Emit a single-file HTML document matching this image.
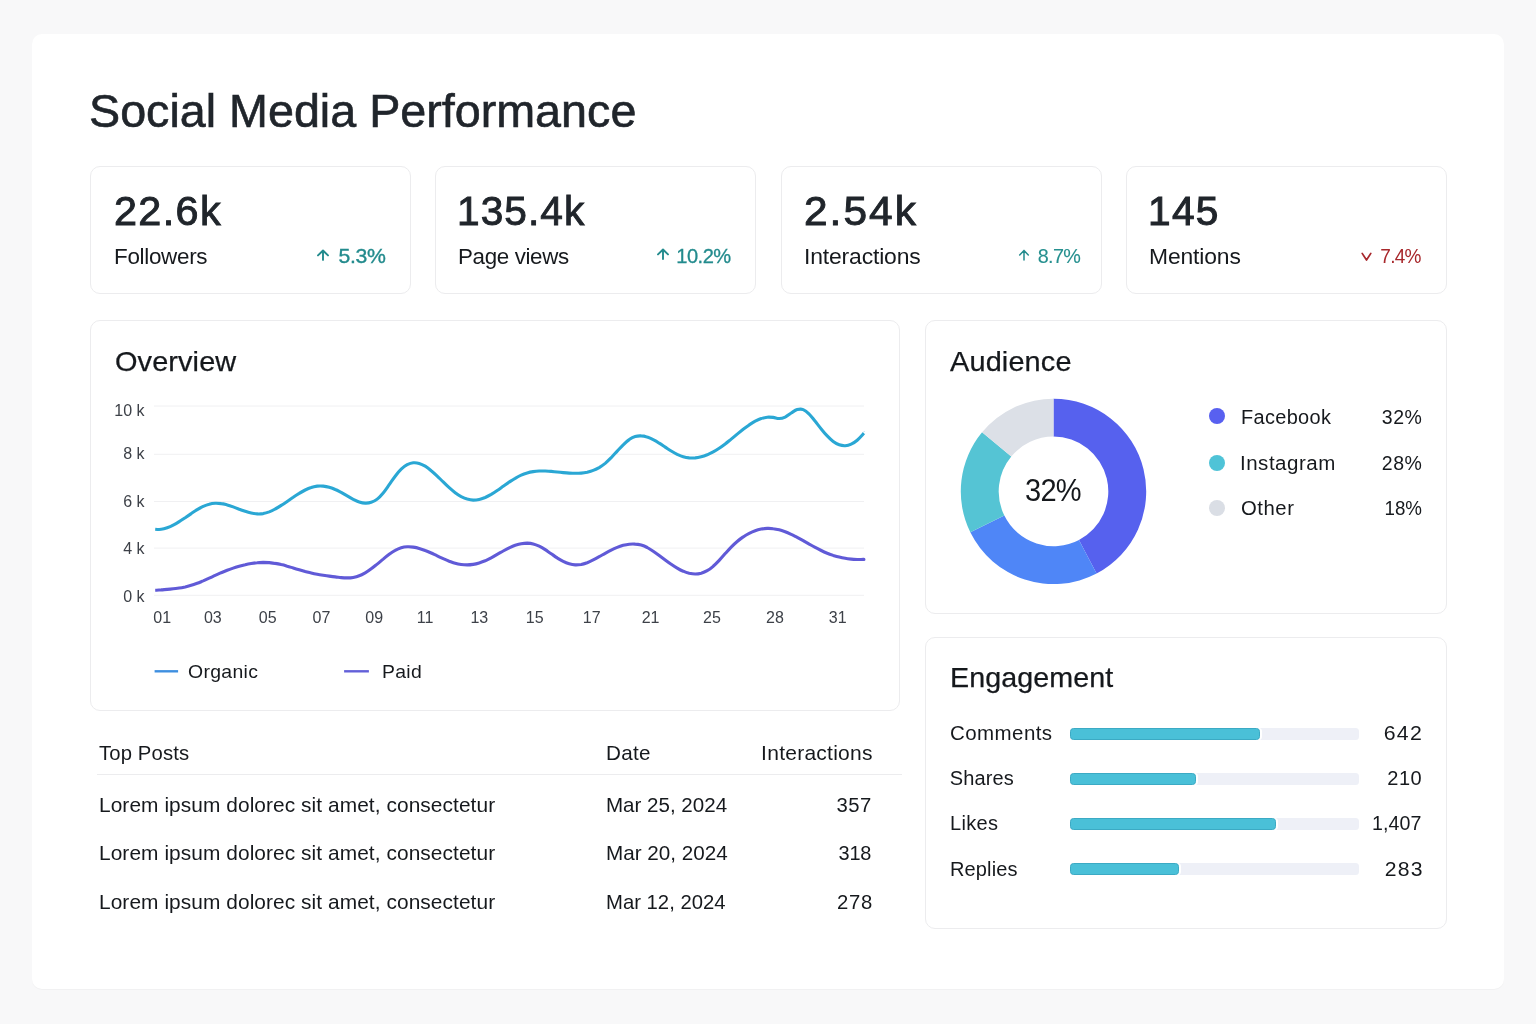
<!DOCTYPE html>
<html lang="en">
<head>
<meta charset="utf-8">
<title>Social Media Performance</title>
<style>
*{box-sizing:border-box;margin:0;padding:0}
html,body{width:1536px;height:1024px;overflow:hidden}
body{background:#f8f8f9;font-family:"Liberation Sans",Arial,sans-serif;color:#1f2328;position:relative}
.abs{position:absolute}
.t{position:absolute;white-space:nowrap;line-height:1;font-weight:400}
#main{left:32px;top:34px;width:1472px;height:955.4px;background:#fff;border-radius:10px;box-shadow:0 1px 1px rgba(0,0,0,.03)}
.panel{position:absolute;background:#fff;border:1px solid #ececee;border-radius:10px}
.track{position:absolute;left:1070px;width:288.5px;height:12.3px;border-radius:3.5px;background:#eef0f7}
.fill{position:absolute;left:0;top:0;height:12.3px;border-radius:3.5px;background:#4ac0d8;border:1px solid #3caac4;box-shadow:2px 0 0 #fff}
.dot{position:absolute;left:1209.2px;width:16.3px;height:16.3px;border-radius:50%}
</style>
</head>
<body>
<div id="main" class="abs"></div>

<!-- KPI cards -->
<div class="panel" style="left:90px;top:166px;width:321px;height:128px"></div>
<div class="panel" style="left:434.5px;top:166px;width:321.5px;height:128px"></div>
<div class="panel" style="left:780.5px;top:166px;width:321.5px;height:128px"></div>
<div class="panel" style="left:1126px;top:166px;width:321px;height:128px"></div>
<svg class="abs" style="left:315.8px;top:248.6px" width="14" height="13" viewBox="0 0 14 13"><path d="M7 10.9V1.6M2 6.4L7 1.5L12 6.4" fill="none" stroke="#238b8d" stroke-width="1.9" stroke-linecap="round" stroke-linejoin="round"/></svg>
<svg class="abs" style="left:656.1px;top:248.4px" width="14" height="13" viewBox="0 0 14 13"><path d="M7 11V1.6M2 6.4L7 1.5L12 6.4" fill="none" stroke="#238b8d" stroke-width="1.9" stroke-linecap="round" stroke-linejoin="round"/></svg>
<svg class="abs" style="left:1017.2px;top:249.2px" width="14" height="13" viewBox="0 0 14 13"><path d="M7 10.9V1.6M2.7 5.9L7 1.5L11.3 5.9" fill="none" stroke="#238b8d" stroke-width="1.5" stroke-linecap="round" stroke-linejoin="round"/></svg>
<svg class="abs" style="left:1360.9px;top:252px" width="11" height="10" viewBox="0 0 11 10"><path d="M1.2 1.4L5.5 8L9.8 1.4" fill="none" stroke="#a8282c" stroke-width="1.7" stroke-linecap="round" stroke-linejoin="round"/></svg>

<!-- Panels -->
<div class="panel" style="left:90px;top:320px;width:810px;height:390.5px"></div>
<div class="panel" style="left:925px;top:320px;width:522px;height:293.5px"></div>
<div class="panel" style="left:925px;top:637px;width:522px;height:292px"></div>

<!-- Charts -->
<svg class="abs" style="left:0;top:0" width="1536" height="1024" viewBox="0 0 1536 1024">
<g stroke="#f0f0f2" stroke-width="1">
<line x1="154" y1="406" x2="864" y2="406"/><line x1="154" y1="454.3" x2="864" y2="454.3"/><line x1="154" y1="501.5" x2="864" y2="501.5"/><line x1="154" y1="548.1" x2="864" y2="548.1"/><line x1="154" y1="595.3" x2="864" y2="595.3"/>
</g>
<path fill="none" stroke="#2aa7d4" stroke-width="3.1" stroke-linecap="butt" stroke-linejoin="round" d="M155.2 529.2C156.2 529.3 159.2 529.6 161.2 529.3C163.2 529.1 165.2 528.5 167.2 527.8C169.2 527.1 171.2 526.2 173.2 525.1C175.2 524.1 177.2 522.9 179.2 521.6C181.2 520.4 183.2 519.0 185.2 517.7C187.2 516.3 189.2 514.9 191.2 513.6C193.2 512.2 195.2 510.9 197.2 509.7C199.2 508.5 201.2 507.4 203.2 506.4C205.2 505.5 207.2 504.7 209.2 504.2C211.2 503.6 213.2 503.3 215.2 503.2C217.2 503.1 219.2 503.3 221.2 503.6C223.2 503.8 225.2 504.4 227.2 504.9C229.2 505.5 231.2 506.2 233.2 506.9C235.2 507.6 237.2 508.4 239.2 509.2C241.2 509.9 243.2 510.7 245.2 511.3C247.2 512.0 249.2 512.6 251.2 513.0C253.2 513.4 255.2 513.8 257.2 513.9C259.2 514.0 261.2 513.9 263.2 513.6C265.2 513.2 267.2 512.6 269.2 511.9C271.2 511.1 273.2 510.1 275.2 509.0C277.2 508.0 279.2 506.7 281.2 505.4C283.2 504.2 285.2 502.8 287.2 501.4C289.2 500.0 291.2 498.6 293.2 497.3C295.2 495.9 297.2 494.6 299.2 493.4C301.2 492.1 303.2 491.0 305.2 490.0C307.2 489.0 309.2 488.1 311.2 487.5C313.2 486.8 315.2 486.4 317.2 486.1C319.2 485.9 321.2 485.9 323.2 486.1C325.2 486.3 327.2 486.7 329.2 487.3C331.2 487.9 333.2 488.6 335.2 489.5C337.2 490.3 339.2 491.4 341.2 492.4C343.2 493.5 345.2 494.8 347.2 495.9C349.2 497.1 351.2 498.3 353.2 499.3C355.2 500.3 357.2 501.3 359.2 501.9C361.2 502.5 363.2 503.0 365.2 503.1C367.2 503.2 369.2 503.0 371.2 502.3C373.2 501.7 375.2 500.7 377.2 499.1C379.2 497.5 381.2 495.3 383.2 492.9C385.2 490.6 387.2 487.5 389.2 484.7C391.2 481.9 393.2 478.8 395.2 476.2C397.2 473.6 399.2 471.1 401.2 469.2C403.2 467.3 405.2 465.8 407.2 464.7C409.2 463.7 411.2 463.0 413.2 462.8C415.2 462.6 417.2 462.8 419.2 463.4C421.2 464.0 423.2 465.0 425.2 466.2C427.2 467.4 429.2 469.0 431.2 470.7C433.2 472.3 435.2 474.2 437.2 476.1C439.2 478.0 441.2 480.0 443.2 481.9C445.2 483.9 447.2 485.9 449.2 487.7C451.2 489.5 453.2 491.2 455.2 492.7C457.2 494.2 459.2 495.5 461.2 496.6C463.2 497.6 465.2 498.5 467.2 499.1C469.2 499.6 471.2 500.0 473.2 500.1C475.2 500.1 477.2 499.9 479.2 499.5C481.2 499.1 483.2 498.3 485.2 497.5C487.2 496.6 489.2 495.5 491.2 494.4C493.2 493.2 495.2 491.9 497.2 490.5C499.2 489.2 501.2 487.7 503.2 486.3C505.2 484.9 507.2 483.5 509.2 482.1C511.2 480.8 513.2 479.4 515.2 478.3C517.2 477.1 519.2 476.0 521.2 475.1C523.2 474.2 525.2 473.5 527.2 472.9C529.2 472.3 531.2 471.9 533.2 471.6C535.2 471.3 537.2 471.1 539.2 471.0C541.2 470.9 543.2 471.0 545.2 471.0C547.2 471.1 549.2 471.2 551.2 471.4C553.2 471.6 555.2 471.8 557.2 472.0C559.2 472.2 561.2 472.4 563.2 472.6C565.2 472.8 567.2 473.0 569.2 473.1C571.2 473.2 573.2 473.3 575.2 473.3C577.2 473.3 579.2 473.3 581.2 473.1C583.2 472.9 585.2 472.6 587.2 472.2C589.2 471.7 591.2 471.2 593.2 470.4C595.2 469.7 597.2 468.7 599.2 467.6C601.2 466.4 603.2 465.0 605.2 463.4C607.2 461.7 609.2 459.7 611.2 457.7C613.2 455.6 615.2 453.3 617.2 451.1C619.2 449.0 621.2 446.7 623.2 444.8C625.2 442.8 627.2 440.9 629.2 439.6C631.2 438.2 633.2 437.1 635.2 436.5C637.2 435.9 639.2 435.8 641.2 435.9C643.2 435.9 645.2 436.4 647.2 437.1C649.2 437.7 651.2 438.6 653.2 439.7C655.2 440.7 657.2 441.9 659.2 443.2C661.2 444.4 663.2 445.8 665.2 447.1C667.2 448.4 669.2 449.8 671.2 451.0C673.2 452.2 675.2 453.4 677.2 454.4C679.2 455.3 681.2 456.2 683.2 456.7C685.2 457.3 687.2 457.7 689.2 457.9C691.2 458.0 693.2 458.0 695.2 457.9C697.2 457.7 699.2 457.3 701.2 456.8C703.2 456.3 705.2 455.6 707.2 454.8C709.2 453.9 711.2 453.0 713.2 451.9C715.2 450.8 717.2 449.5 719.2 448.2C721.2 446.9 723.2 445.4 725.2 443.9C727.2 442.4 729.2 440.7 731.2 439.1C733.2 437.5 735.2 435.8 737.2 434.1C739.2 432.5 741.2 430.9 743.2 429.3C745.2 427.8 747.2 426.3 749.2 424.9C751.2 423.6 753.2 422.3 755.2 421.2C757.2 420.2 759.2 419.2 761.2 418.6C763.2 417.9 765.2 417.4 767.2 417.2C769.2 417.0 771.2 417.2 773.2 417.4C775.2 417.6 777.2 418.6 779.2 418.5C781.2 418.5 783.2 418.0 785.2 417.1C787.2 416.2 789.2 414.2 791.2 413.0C793.2 411.8 795.2 410.2 797.2 409.6C799.2 409.1 801.2 408.9 803.2 409.6C805.2 410.4 807.2 412.1 809.2 414.1C811.2 416.0 813.2 418.9 815.2 421.3C817.2 423.8 819.2 426.5 821.2 428.9C823.2 431.4 825.2 433.8 827.2 435.9C829.2 438.0 831.2 440.0 833.2 441.5C835.2 443.0 837.2 444.1 839.2 444.8C841.2 445.5 843.2 445.8 845.2 445.7C847.2 445.5 849.2 445.0 851.2 444.1C853.2 443.2 855.2 441.9 857.2 440.2C859.2 438.5 862.1 435.2 863.2 434.0C864.3 432.8 863.8 433.2 863.9 433.1"/>
<path fill="none" stroke="#605ad7" stroke-width="3.1" stroke-linecap="butt" stroke-linejoin="round" d="M155.2 590.2C156.2 590.2 159.2 590.0 161.2 589.9C163.2 589.7 165.2 589.6 167.2 589.4C169.2 589.3 171.2 589.1 173.2 588.8C175.2 588.6 177.2 588.3 179.2 588.0C181.2 587.7 183.2 587.3 185.2 586.9C187.2 586.4 189.2 585.9 191.2 585.3C193.2 584.7 195.2 584.0 197.2 583.3C199.2 582.6 201.2 581.7 203.2 580.9C205.2 580.0 207.2 579.1 209.2 578.2C211.2 577.3 213.2 576.3 215.2 575.4C217.2 574.5 219.2 573.6 221.2 572.7C223.2 571.9 225.2 571.1 227.2 570.3C229.2 569.5 231.2 568.8 233.2 568.1C235.2 567.4 237.2 566.8 239.2 566.2C241.2 565.6 243.2 565.1 245.2 564.7C247.2 564.2 249.2 563.8 251.2 563.5C253.2 563.2 255.2 562.9 257.2 562.8C259.2 562.6 261.2 562.5 263.2 562.4C265.2 562.4 267.2 562.5 269.2 562.6C271.2 562.8 273.2 563.0 275.2 563.4C277.2 563.7 279.2 564.1 281.2 564.6C283.2 565.0 285.2 565.6 287.2 566.2C289.2 566.7 291.2 567.4 293.2 568.0C295.2 568.6 297.2 569.2 299.2 569.8C301.2 570.4 303.2 571.0 305.2 571.6C307.2 572.1 309.2 572.7 311.2 573.1C313.2 573.6 315.2 574.0 317.2 574.3C319.2 574.7 321.2 575.0 323.2 575.3C325.2 575.6 327.2 575.9 329.2 576.1C331.2 576.4 333.2 576.7 335.2 576.9C337.2 577.1 339.2 577.4 341.2 577.6C343.2 577.8 345.2 577.9 347.2 577.9C349.2 577.9 351.2 577.8 353.2 577.4C355.2 577.0 357.2 576.5 359.2 575.7C361.2 575.0 363.2 573.9 365.2 572.8C367.2 571.7 369.2 570.3 371.2 568.8C373.2 567.4 375.2 565.7 377.2 564.1C379.2 562.5 381.2 560.7 383.2 559.1C385.2 557.4 387.2 555.8 389.2 554.3C391.2 552.8 393.2 551.4 395.2 550.4C397.2 549.3 399.2 548.4 401.2 547.8C403.2 547.2 405.2 546.9 407.2 546.8C409.2 546.7 411.2 546.8 413.2 547.1C415.2 547.4 417.2 547.8 419.2 548.4C421.2 549.0 423.2 549.7 425.2 550.5C427.2 551.2 429.2 552.1 431.2 553.0C433.2 553.9 435.2 554.9 437.2 555.8C439.2 556.8 441.2 557.7 443.2 558.6C445.2 559.5 447.2 560.4 449.2 561.2C451.2 561.9 453.2 562.7 455.2 563.2C457.2 563.8 459.2 564.2 461.2 564.5C463.2 564.8 465.2 564.9 467.2 564.9C469.2 564.9 471.2 564.7 473.2 564.4C475.2 564.1 477.2 563.6 479.2 563.0C481.2 562.4 483.2 561.6 485.2 560.8C487.2 559.9 489.2 558.9 491.2 557.8C493.2 556.8 495.2 555.6 497.2 554.4C499.2 553.3 501.2 552.1 503.2 551.0C505.2 549.9 507.2 548.8 509.2 547.8C511.2 546.9 513.2 546.0 515.2 545.3C517.2 544.7 519.2 544.1 521.2 543.7C523.2 543.3 525.2 543.1 527.2 543.1C529.2 543.2 531.2 543.4 533.2 543.9C535.2 544.4 537.2 545.2 539.2 546.1C541.2 547.1 543.2 548.3 545.2 549.6C547.2 550.9 549.2 552.4 551.2 553.7C553.2 555.1 555.2 556.6 557.2 557.9C559.2 559.1 561.2 560.4 563.2 561.4C565.2 562.4 567.2 563.2 569.2 563.8C571.2 564.4 573.2 564.8 575.2 564.9C577.2 565.0 579.2 564.8 581.2 564.5C583.2 564.1 585.2 563.4 587.2 562.7C589.2 561.9 591.2 560.9 593.2 559.9C595.2 558.9 597.2 557.8 599.2 556.7C601.2 555.6 603.2 554.4 605.2 553.3C607.2 552.2 609.2 551.1 611.2 550.1C613.2 549.1 615.2 548.2 617.2 547.4C619.2 546.6 621.2 545.9 623.2 545.3C625.2 544.8 627.2 544.4 629.2 544.2C631.2 544.0 633.2 543.9 635.2 544.1C637.2 544.2 639.2 544.6 641.2 545.1C643.2 545.7 645.2 546.5 647.2 547.5C649.2 548.6 651.2 549.9 653.2 551.2C655.2 552.5 657.2 554.0 659.2 555.5C661.2 557.0 663.2 558.5 665.2 560.0C667.2 561.5 669.2 563.0 671.2 564.3C673.2 565.7 675.2 567.0 677.2 568.1C679.2 569.3 681.2 570.4 683.2 571.2C685.2 572.1 687.2 572.8 689.2 573.3C691.2 573.7 693.2 574.0 695.2 574.0C697.2 574.0 699.2 573.7 701.2 573.2C703.2 572.6 705.2 571.8 707.2 570.6C709.2 569.5 711.2 568.1 713.2 566.3C715.2 564.6 717.2 562.5 719.2 560.4C721.2 558.3 723.2 555.9 725.2 553.6C727.2 551.4 729.2 549.1 731.2 547.1C733.2 545.1 735.2 543.2 737.2 541.5C739.2 539.8 741.2 538.2 743.2 536.9C745.2 535.5 747.2 534.3 749.2 533.3C751.2 532.3 753.2 531.4 755.2 530.7C757.2 530.0 759.2 529.5 761.2 529.1C763.2 528.7 765.2 528.5 767.2 528.4C769.2 528.3 771.2 528.4 773.2 528.7C775.2 528.9 777.2 529.3 779.2 529.8C781.2 530.3 783.2 531.0 785.2 531.7C787.2 532.5 789.2 533.4 791.2 534.3C793.2 535.2 795.2 536.3 797.2 537.3C799.2 538.4 801.2 539.5 803.2 540.6C805.2 541.8 807.2 542.9 809.2 544.1C811.2 545.2 813.2 546.3 815.2 547.4C817.2 548.5 819.2 549.5 821.2 550.5C823.2 551.5 825.2 552.4 827.2 553.2C829.2 554.0 831.2 554.7 833.2 555.4C835.2 556.0 837.2 556.6 839.2 557.1C841.2 557.6 843.2 558.0 845.2 558.3C847.2 558.7 849.2 558.9 851.2 559.1C853.2 559.3 855.2 559.4 857.2 559.5C859.2 559.5 862.1 559.4 863.2 559.4C864.3 559.4 863.8 559.4 863.9 559.4"/>
<line x1="154.6" y1="671.3" x2="178.1" y2="671.3" stroke="#3e8fe0" stroke-width="2.4"/>
<line x1="344.1" y1="671.3" x2="368.9" y2="671.3" stroke="#6360d9" stroke-width="2.4"/>
<path fill="#5661ee" d="M1053.50 398.70A92.7 92.7 0 0 1 1096.59 573.48L1078.97 539.92A54.8 54.8 0 0 0 1053.50 436.60Z"/>
<path fill="#4f86f7" d="M1096.59 573.48A92.7 92.7 0 0 1 970.32 532.33L1004.33 515.59A54.8 54.8 0 0 0 1078.97 539.92Z"/>
<path fill="#55c4d4" d="M970.32 532.33A92.7 92.7 0 0 1 982.07 432.31L1011.28 456.47A54.8 54.8 0 0 0 1004.33 515.59Z"/>
<path fill="#dce0e7" d="M982.07 432.31A92.7 92.7 0 0 1 1053.50 398.70L1053.50 436.60A54.8 54.8 0 0 0 1011.28 456.47Z"/>
</svg>
<div class="dot" style="top:408.2px;background:#5860f0"></div>
<div class="dot" style="top:454.8px;background:#4fc3d7"></div>
<div class="dot" style="top:499.8px;background:#dadee5"></div>
<div class="track" style="top:727.65px"><div class="fill" style="width:190px"></div></div>
<div class="track" style="top:772.75px"><div class="fill" style="width:125.9px"></div></div>
<div class="track" style="top:817.85px"><div class="fill" style="width:205.8px"></div></div>
<div class="track" style="top:862.65px"><div class="fill" style="width:108.5px"></div></div>

<div class="abs" style="left:96.5px;top:773.6px;width:805px;height:1px;background:#ececee"></div>

<!-- Text -->
<div id="txt" style="position:absolute;left:0;top:0;width:1536px;height:1024px;will-change:transform">
<div class="t" id="title" style="font-size:45.8px;top:88.96px;color:#20252b;letter-spacing:-0.02px;-webkit-text-stroke:0.6px #20252b;left:88.66px;transform:scaleX(1.020);transform-origin:0 50%;">Social Media Performance</div>
<div class="t" id="k1" style="font-size:40px;top:191.34px;color:#20252b;letter-spacing:1.30px;-webkit-text-stroke:0.9px #20252b;left:113.87px;transform:scaleX(1.034);transform-origin:0 50%;">22.6k</div>
<div class="t" id="k2" style="font-size:40px;top:191.34px;color:#20252b;letter-spacing:1.01px;-webkit-text-stroke:0.9px #20252b;left:457.45px;transform:scaleX(1.017);transform-origin:0 50%;">135.4k</div>
<div class="t" id="k3" style="font-size:40px;top:191.34px;color:#20252b;letter-spacing:1.92px;-webkit-text-stroke:0.9px #20252b;left:803.89px;transform:scaleX(1.060);transform-origin:0 50%;">2.54k</div>
<div class="t" id="k4" style="font-size:40px;top:191.34px;color:#20252b;letter-spacing:1.29px;-webkit-text-stroke:1px #20252b;left:1147.79px;transform:scaleX(1.015);transform-origin:0 50%;">145</div>
<div class="t" id="l1" style="font-size:22px;top:246.00px;color:#16191d;letter-spacing:-0.30px;left:114.43px;transform:scaleX(1.020);transform-origin:0 50%;">Followers</div>
<div class="t" id="l2" style="font-size:22px;top:246.00px;color:#16191d;letter-spacing:-0.35px;left:458.11px;transform:scaleX(1.016);transform-origin:0 50%;">Page views</div>
<div class="t" id="l3" style="font-size:22px;top:246.00px;color:#16191d;letter-spacing:-0.15px;left:803.86px;transform:scaleX(1.041);transform-origin:0 50%;">Interactions</div>
<div class="t" id="l4" style="font-size:22px;top:246.00px;color:#16191d;letter-spacing:-0.12px;left:1148.86px;transform:scaleX(1.039);transform-origin:0 50%;">Mentions</div>
<div class="t" id="d1" style="font-size:20.6px;top:246.46px;color:#238b8d;letter-spacing:-0.39px;-webkit-text-stroke:0.35px #238b8d;right:1150.73px;text-align:right;transform:scaleX(1.031);transform-origin:100% 50%;">5.3%</div>
<div class="t" id="d2" style="font-size:20.6px;top:246.46px;color:#238b8d;letter-spacing:-0.55px;-webkit-text-stroke:0.3px #238b8d;right:804.90px;text-align:right;transform:scaleX(0.976);transform-origin:100% 50%;">10.2%</div>
<div class="t" id="d3" style="font-size:20.6px;top:246.46px;color:#26908f;letter-spacing:-0.68px;-webkit-text-stroke:0.1px #26908f;right:456.21px;text-align:right;transform:scaleX(0.961);transform-origin:100% 50%;">8.7%</div>
<div class="t" id="d4" style="font-size:20.6px;top:246.46px;color:#a8282c;letter-spacing:-0.82px;right:115.44px;text-align:right;transform:scaleX(0.924);transform-origin:100% 50%;">7.4%</div>
<div class="t" id="overview" style="font-size:27.2px;top:347.73px;color:#15181c;letter-spacing:0.10px;-webkit-text-stroke:0.25px #15181c;left:115.08px;transform:scaleX(1.063);transform-origin:0 50%;">Overview</div>
<div class="t" id="audience" style="font-size:27.2px;top:347.83px;color:#15181c;letter-spacing:0.13px;-webkit-text-stroke:0.25px #15181c;left:949.63px;transform:scaleX(1.063);transform-origin:0 50%;">Audience</div>
<div class="t" id="engagement" style="font-size:27.2px;top:663.86px;color:#15181c;letter-spacing:0.05px;-webkit-text-stroke:0.25px #15181c;left:949.70px;transform:scaleX(1.055);transform-origin:0 50%;">Engagement</div>
<div class="t" id="organic" style="font-size:18.6px;top:663.15px;color:#16191d;letter-spacing:0.31px;left:188.13px;transform:scaleX(1.044);transform-origin:0 50%;">Organic</div>
<div class="t" id="paid" style="font-size:18.6px;top:662.75px;color:#16191d;letter-spacing:0.29px;left:382.46px;transform:scaleX(1.042);transform-origin:0 50%;">Paid</div>
<div class="t" id="c32" style="font-size:31px;top:474.88px;color:#15181c;letter-spacing:-0.80px;left:952.91px;width:200px;text-align:center;transform:scaleX(0.937);transform-origin:50% 50%;">32%</div>
<div class="t" id="facebook" style="font-size:19.5px;top:408.29px;color:#16191d;letter-spacing:0.33px;left:1240.52px;transform:scaleX(1.022);transform-origin:0 50%;">Facebook</div>
<div class="t" id="instagram" style="font-size:19.5px;top:454.08px;color:#16191d;letter-spacing:0.48px;left:1240.09px;transform:scaleX(1.052);transform-origin:0 50%;">Instagram</div>
<div class="t" id="other" style="font-size:19.5px;top:499.10px;color:#16191d;letter-spacing:0.53px;left:1240.72px;transform:scaleX(1.041);transform-origin:0 50%;">Other</div>
<div class="t" id="p32" style="font-size:19.5px;top:408.29px;color:#16191d;letter-spacing:0.59px;right:113.49px;text-align:right;">32%</div>
<div class="t" id="p28" style="font-size:19.5px;top:454.08px;color:#16191d;letter-spacing:0.62px;right:113.45px;text-align:right;">28%</div>
<div class="t" id="p18" style="font-size:19.5px;top:499.10px;color:#16191d;letter-spacing:-0.01px;right:114.33px;text-align:right;transform:scaleX(0.961);transform-origin:100% 50%;">18%</div>
<div class="t" id="comments" style="font-size:20px;top:723.31px;color:#16191d;letter-spacing:0.42px;left:949.90px;transform:scaleX(1.025);transform-origin:0 50%;">Comments</div>
<div class="t" id="shares" style="font-size:20px;top:768.16px;color:#16191d;letter-spacing:0.14px;left:949.77px;">Shares</div>
<div class="t" id="likes" style="font-size:20px;top:813.28px;color:#16191d;letter-spacing:0.32px;left:949.98px;">Likes</div>
<div class="t" id="replies" style="font-size:20px;top:859.17px;color:#16191d;letter-spacing:0.14px;left:949.98px;">Replies</div>
<div class="t" id="n642" style="font-size:20px;top:723.31px;color:#16191d;letter-spacing:1.23px;right:112.72px;text-align:right;transform:scaleX(1.064);transform-origin:100% 50%;">642</div>
<div class="t" id="n210" style="font-size:20px;top:768.16px;color:#16191d;letter-spacing:0.42px;right:114.02px;text-align:right;">210</div>
<div class="t" id="n1407" style="font-size:20px;top:813.28px;color:#16191d;letter-spacing:0.10px;right:114.46px;text-align:right;transform:scaleX(0.980);transform-origin:100% 50%;">1,407</div>
<div class="t" id="n283" style="font-size:20px;top:859.17px;color:#16191d;letter-spacing:1.10px;right:112.19px;text-align:right;transform:scaleX(1.059);transform-origin:100% 50%;">283</div>
<div class="t" id="topposts" style="font-size:20.3px;top:742.79px;color:#16191d;letter-spacing:0.12px;left:99.04px;">Top Posts</div>
<div class="t" id="date" style="font-size:20.3px;top:742.79px;color:#16191d;letter-spacing:0.26px;left:606.17px;transform:scaleX(1.019);transform-origin:0 50%;">Date</div>
<div class="t" id="inter" style="font-size:20.3px;top:742.79px;color:#16191d;letter-spacing:0.24px;right:663.73px;text-align:right;transform:scaleX(1.036);transform-origin:100% 50%;">Interactions</div>
<div class="t" id="r1" style="font-size:20.3px;top:795.08px;color:#16191d;letter-spacing:0.07px;left:98.97px;transform:scaleX(1.029);transform-origin:0 50%;">Lorem ipsum dolorec sit amet, consectetur</div>
<div class="t" id="r2" style="font-size:20.3px;top:842.85px;color:#16191d;letter-spacing:0.07px;left:98.97px;transform:scaleX(1.029);transform-origin:0 50%;">Lorem ipsum dolorec sit amet, consectetur</div>
<div class="t" id="r3" style="font-size:20.3px;top:891.77px;color:#16191d;letter-spacing:0.07px;left:98.97px;transform:scaleX(1.029);transform-origin:0 50%;">Lorem ipsum dolorec sit amet, consectetur</div>
<div class="t" id="r1d" style="font-size:20.3px;top:795.08px;color:#16191d;letter-spacing:-0.01px;left:606.22px;transform:scaleX(1.014);transform-origin:0 50%;">Mar 25, 2024</div>
<div class="t" id="r2d" style="font-size:20.3px;top:842.85px;color:#16191d;left:606.17px;transform:scaleX(1.019);transform-origin:0 50%;">Mar 20, 2024</div>
<div class="t" id="r3d" style="font-size:20.3px;top:891.77px;color:#16191d;left:606.02px;">Mar 12, 2024</div>
<div class="t" id="r1n" style="font-size:20.3px;top:795.08px;color:#16191d;letter-spacing:0.52px;right:664.17px;text-align:right;">357</div>
<div class="t" id="r2n" style="font-size:20.3px;top:842.85px;color:#16191d;letter-spacing:-0.23px;right:664.68px;text-align:right;transform:scaleX(0.982);transform-origin:100% 50%;">318</div>
<div class="t" id="r3n" style="font-size:20.3px;top:891.77px;color:#16191d;letter-spacing:0.73px;right:663.09px;text-align:right;">278</div>
<div class="t" id="y10" style="font-size:16px;top:402.96px;color:#3d4148;right:1391.50px;text-align:right;">10 k</div>
<div class="t" id="y8" style="font-size:16px;top:446.16px;color:#3d4148;right:1391.50px;text-align:right;">8 k</div>
<div class="t" id="y6" style="font-size:16px;top:493.66px;color:#3d4148;right:1391.50px;text-align:right;">6 k</div>
<div class="t" id="y4" style="font-size:16px;top:541.06px;color:#3d4148;right:1391.50px;text-align:right;">4 k</div>
<div class="t" id="y0" style="font-size:16px;top:588.56px;color:#3d4148;right:1391.50px;text-align:right;">0 k</div>
<div class="t" id="x01" style="font-size:16px;top:610.46px;color:#3d4148;left:62.20px;width:200px;text-align:center;">01</div>
<div class="t" id="x03" style="font-size:16px;top:610.46px;color:#3d4148;left:112.80px;width:200px;text-align:center;">03</div>
<div class="t" id="x05" style="font-size:16px;top:610.46px;color:#3d4148;left:167.70px;width:200px;text-align:center;">05</div>
<div class="t" id="x07" style="font-size:16px;top:610.46px;color:#3d4148;left:221.40px;width:200px;text-align:center;">07</div>
<div class="t" id="x09" style="font-size:16px;top:610.46px;color:#3d4148;left:274.20px;width:200px;text-align:center;">09</div>
<div class="t" id="x11" style="font-size:16px;top:610.46px;color:#3d4148;left:325.10px;width:200px;text-align:center;">11</div>
<div class="t" id="x13" style="font-size:16px;top:610.46px;color:#3d4148;left:379.30px;width:200px;text-align:center;">13</div>
<div class="t" id="x15" style="font-size:16px;top:610.46px;color:#3d4148;left:434.70px;width:200px;text-align:center;">15</div>
<div class="t" id="x17" style="font-size:16px;top:610.46px;color:#3d4148;left:491.70px;width:200px;text-align:center;">17</div>
<div class="t" id="x21" style="font-size:16px;top:610.46px;color:#3d4148;left:550.60px;width:200px;text-align:center;">21</div>
<div class="t" id="x25" style="font-size:16px;top:610.46px;color:#3d4148;left:612.00px;width:200px;text-align:center;">25</div>
<div class="t" id="x28" style="font-size:16px;top:610.46px;color:#3d4148;left:674.90px;width:200px;text-align:center;">28</div>
<div class="t" id="x31" style="font-size:16px;top:610.46px;color:#3d4148;left:737.70px;width:200px;text-align:center;">31</div>
</div>
</body>
</html>
